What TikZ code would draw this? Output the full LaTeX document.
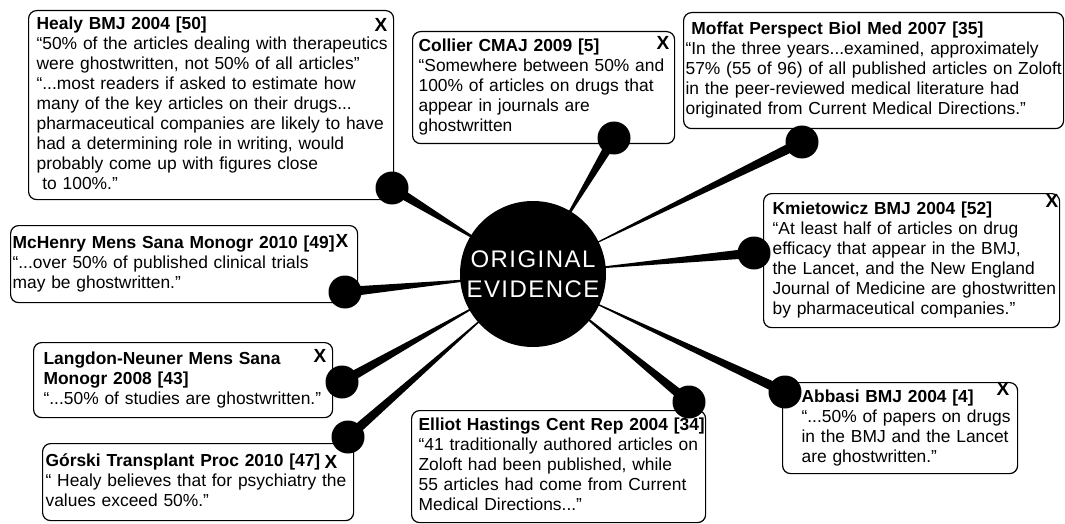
\documentclass[tikz,border=0pt]{standalone}
\usepackage{fontspec}
\setmainfont{Liberation Sans}
\newfontfamily\hubfont[LetterSpace=6]{Liberation Sans}
\usetikzlibrary{calc}
\pgfdeclarelayer{bg}
\pgfsetlayers{bg,main}
\newcommand\cardlines[1]{\begin{tabular}{@{}l@{}}#1\end{tabular}}

\tikzset{
  card/.style={draw, line width=1.2pt, rounded corners=8pt, anchor=north west,
    align=left, inner ysep=0pt, font=\fontsize{17.4}{20}\selectfont},
  ball/.style={circle, fill=black, inner sep=0pt, minimum size=33pt},
  closex/.style={inner sep=0pt, font=\fontsize{19}{20}\selectfont\bfseries},
  hub/.style={circle, fill=black, inner sep=0pt, minimum size=146pt, text=white,
    align=center, font=\hubfont\fontsize{24}{30}\selectfont},
}

\begin{document}
\begin{tikzpicture}[x=1pt, y=-1pt]
  \useasboundingbox (0,0) rectangle (1065,524);

  \node[card, inner xsep=8pt, text width=349pt, minimum height=189pt] (healy) at (28,10) {\cardlines{%
    \textbf{Healy BMJ 2004 [50]}\\
    “50\% of the articles dealing with therapeutics\\
    were ghostwritten, not 50\% of all articles”\\
    “...most readers if asked to estimate how\\
    many of the key articles on their drugs...\\
    pharmaceutical companies are likely to have\\
    had a determining role in writing, would\\
    probably come up with figures close\\
    \ to 100\%.”}};
  \node[card, inner xsep=6pt, text width=250pt, minimum height=112pt] (collier) at (412,31) {\cardlines{%
    \textbf{Collier CMAJ 2009 [5]}\\
    “Somewhere between 50\% and\\
    100\% of articles on drugs that\\
    appear in journals are\\
    ghostwritten}};
  \node[card, inner xsep=2pt, text width=376pt, minimum height=116pt] (moffat) at (683,12) {\cardlines{%
    \textbf{\ Moffat Perspect Biol Med 2007 [35]}\\
    “In the three years...examined, approximately\\
    57\% (55 of 96) of all published articles on Zoloft\\
    in the peer-reviewed medical literature had\\
    originated from Current Medical Directions.”}};
  \node[card, inner xsep=9pt, text width=278pt, minimum height=134pt] (kmiet) at (763,193) {\cardlines{%
    \textbf{Kmietowicz BMJ 2004 [52]}\\
    “At least half of articles on drug\\
    efficacy that appear in the BMJ,\\
    the Lancet, and the New England\\
    Journal of Medicine are ghostwritten\\
    by pharmaceutical companies.”}};
  \node[card, inner xsep=19pt, text width=197pt, minimum height=91pt] (abbasi) at (782,382) {\cardlines{%
    \textbf{Abbasi BMJ 2004 [4]}\\
    “...50\% of papers on drugs\\
    in the BMJ and the Lancet\\
    are ghostwritten.”}};
  \node[card, inner xsep=7pt, text width=280pt, minimum height=112pt] (elliot) at (411,410) {\cardlines{%
    \textbf{Elliot Hastings Cent Rep 2004 [34]}\\
    “41 traditionally authored articles on\\
    Zoloft had been published, while\\
    55 articles had come from Current\\
    Medical Directions...”}};
  \node[card, inner xsep=3pt, text width=305pt, minimum height=77pt] (gorski) at (42,443) {\cardlines{%
    \textbf{Górski Transplant Proc 2010 [47]}\\
    “ Healy believes that for psychiatry the\\
    values exceed 50\%.”}};
  \node[card, inner xsep=10pt, text width=279pt, minimum height=75pt] (langdon) at (33,342) {\cardlines{%
    \textbf{Langdon-Neuner Mens Sana}\\
    \textbf{Monogr 2008 [43]}\\
    “...50\% of studies are ghostwritten.”}};
  \node[card, inner xsep=2pt, text width=343pt, minimum height=77pt] (mchenry) at (10,225) {\cardlines{%
    \textbf{McHenry Mens Sana Monogr 2010 [49]}\\
    “...over 50\% of published clinical trials\\
    may be ghostwritten.”}};

  \node[closex] (healyX) at (381,25) {X};
  \node[closex] (collierX) at (663,43) {X};
  \node[closex] (kmietX) at (1052,201) {X};
  \node[closex] (abbasiX) at (1003,389) {X};
  \node[closex] (gorskiX) at (331,462) {X};
  \node[closex] (langdonX) at (320,356) {X};
  \node[closex] (mchenryX) at (342,241) {X};

  \node[ball] (bhealy) at (392,188) {};
  \node[ball] (bcollier) at (614,138) {};
  \node[ball] (bmoffat) at (802,142) {};
  \node[ball] (bkmiet) at (754,253) {};
  \node[ball] (babbasi) at (785,392) {};
  \node[ball] (belliot) at (689,402) {};
  \node[ball] (bgorski) at (348,437) {};
  \node[ball] (blangdon) at (342,382) {};
  \node[ball] (bmchenry) at (345,292) {};

  \node[hub] (hub) at (533,274) {ORIGINAL\\EVIDENCE};

  \begin{pgfonlayer}{bg}
    \foreach \b in {healy,collier,moffat,kmiet,abbasi,elliot,gorski,langdon,mchenry}
      \fill ($(hub.center)!40pt!(b\b)$) -- ($(b\b)!5pt!90:(hub.center)$)
        -- ($(b\b)!5pt!-90:(hub.center)$) -- cycle;
  \end{pgfonlayer}
\end{tikzpicture}
\end{document}
